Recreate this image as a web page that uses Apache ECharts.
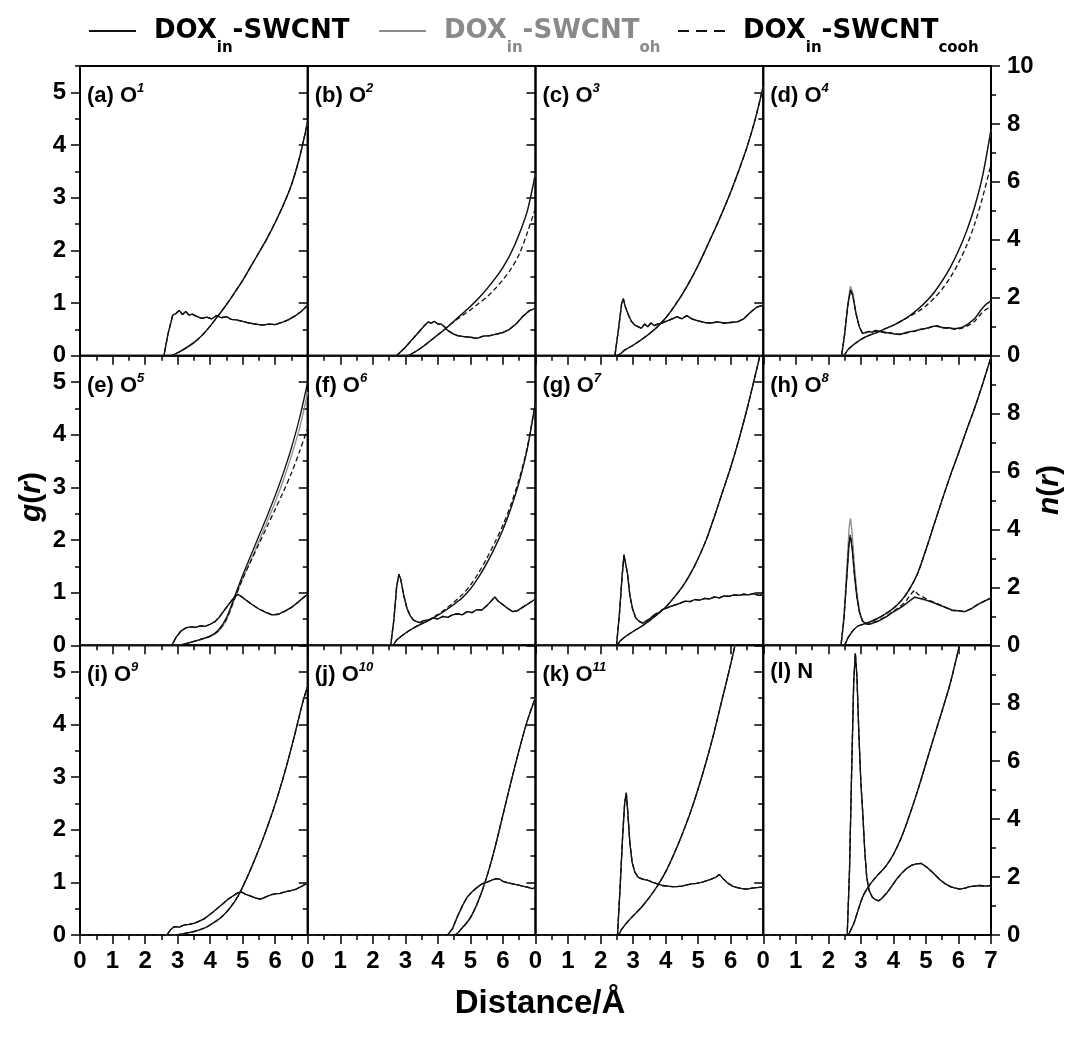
<!DOCTYPE html>
<html>
<head>
<meta charset="utf-8">
<script src="https://cdn.jsdelivr.net/npm/echarts@6/dist/echarts.min.js"></script>
<style>
  html, body { margin: 0; padding: 0; background: #fff; }
  #chart { width: 1074px; height: 1039px; }
</style>
</head>
<body>
<div id="chart"></div>
<script>
// g(r) and n(r), [r (Å), value]
const aG = [[0,0],[2.58,0],[2.7,0.4],[2.85,0.77],[2.95,0.8],[3.05,0.86],[3.15,0.78],[3.25,0.84],[3.35,0.77],[3.45,0.79],[3.6,0.74],[3.75,0.71],[3.9,0.73],[4.05,0.7],[4.2,0.76],[4.35,0.72],[4.5,0.74],[4.65,0.69],[4.8,0.68],[5.0,0.65],[5.2,0.62],[5.4,0.6],[5.6,0.58],[5.8,0.6],[6.0,0.59],[6.2,0.63],[6.4,0.68],[6.6,0.75],[6.8,0.84],[7.0,0.96]];
const aN = [[0,0],[2.77,0],[3.0,0.1],[3.25,0.26],[3.5,0.45],[3.75,0.7],[4.0,1.02],[4.25,1.38],[4.5,1.76],[4.75,2.17],[5.0,2.6],[5.25,3.08],[5.5,3.56],[5.75,4.05],[6.0,4.6],[6.25,5.2],[6.5,5.9],[6.75,6.85],[7.0,8.1]];

const bG = [[0,0],[2.73,0],[3.0,0.16],[3.2,0.3],[3.4,0.44],[3.6,0.58],[3.7,0.64],[3.8,0.62],[3.9,0.65],[4.0,0.6],[4.1,0.6],[4.2,0.55],[4.3,0.48],[4.45,0.42],[4.6,0.38],[4.8,0.36],[5.0,0.35],[5.2,0.33],[5.4,0.37],[5.6,0.38],[5.8,0.41],[6.0,0.44],[6.2,0.5],[6.4,0.6],[6.6,0.74],[6.8,0.85],[7.0,0.9]];
const bN = [[0,0],[3.04,0],[3.25,0.1],[3.5,0.28],[3.75,0.5],[4.0,0.72],[4.25,0.95],[4.5,1.2],[4.75,1.45],[5.0,1.7],[5.25,1.98],[5.5,2.3],[5.75,2.65],[6.0,3.05],[6.25,3.55],[6.5,4.2],[6.75,5.0],[7.0,6.3]];
const bNc = [[0,0],[3.04,0],[3.25,0.1],[3.5,0.28],[3.75,0.5],[4.0,0.72],[4.25,0.95],[4.5,1.18],[4.75,1.38],[5.0,1.58],[5.25,1.8],[5.5,2.02],[5.75,2.3],[6.0,2.62],[6.25,3.0],[6.5,3.5],[6.75,4.25],[7.0,5.1]];

const cG = [[0,0],[2.44,0],[2.55,0.5],[2.65,1.0],[2.7,1.08],[2.75,0.95],[2.85,0.78],[2.95,0.65],[3.05,0.58],[3.15,0.55],[3.25,0.52],[3.35,0.6],[3.45,0.55],[3.55,0.62],[3.65,0.57],[3.75,0.6],[3.9,0.62],[4.05,0.66],[4.2,0.7],[4.35,0.74],[4.5,0.7],[4.65,0.76],[4.8,0.7],[5.0,0.66],[5.2,0.63],[5.4,0.62],[5.6,0.64],[5.8,0.62],[6.0,0.63],[6.2,0.64],[6.4,0.7],[6.6,0.82],[6.8,0.92],[7.0,0.96]];
const cN = [[0,0],[2.49,0],[2.75,0.2],[3.0,0.36],[3.25,0.55],[3.5,0.76],[3.75,1.0],[4.0,1.3],[4.25,1.68],[4.5,2.1],[4.75,2.58],[5.0,3.12],[5.25,3.72],[5.5,4.33],[5.75,4.97],[6.0,5.65],[6.25,6.4],[6.5,7.2],[6.75,8.15],[7.0,9.3]];

const dG = [[0,0],[2.41,0],[2.5,0.4],[2.6,0.95],[2.68,1.25],[2.75,1.15],[2.85,0.8],[2.95,0.55],[3.05,0.42],[3.15,0.44],[3.25,0.46],[3.35,0.44],[3.45,0.48],[3.6,0.46],[3.75,0.44],[3.9,0.43],[4.05,0.41],[4.2,0.4],[4.35,0.43],[4.5,0.45],[4.65,0.47],[4.8,0.49],[5.0,0.52],[5.2,0.55],[5.35,0.57],[5.5,0.53],[5.7,0.53],[5.9,0.51],[6.1,0.53],[6.3,0.6],[6.5,0.7],[6.7,0.88],[6.85,0.98],[7.0,1.04]];
const dGoh = [[0,0],[2.41,0],[2.5,0.42],[2.6,1.0],[2.68,1.32],[2.75,1.2],[2.85,0.82],[2.95,0.56],[3.05,0.43],[3.15,0.45],[3.25,0.45],[3.35,0.46],[3.45,0.47],[3.6,0.45],[3.75,0.45],[3.9,0.42],[4.05,0.42],[4.2,0.41],[4.35,0.44],[4.5,0.46],[4.65,0.46],[4.8,0.5],[5.0,0.52],[5.2,0.56],[5.35,0.55],[5.5,0.54],[5.7,0.52],[5.9,0.52],[6.1,0.54],[6.3,0.61],[6.5,0.71],[6.7,0.87],[6.85,0.97],[7.0,1.03]];
const dGc = [[0,0],[2.41,0],[2.5,0.4],[2.6,0.95],[2.68,1.24],[2.75,1.14],[2.85,0.8],[2.95,0.55],[3.05,0.43],[3.15,0.43],[3.25,0.46],[3.35,0.45],[3.45,0.47],[3.6,0.46],[3.75,0.43],[3.9,0.44],[4.05,0.41],[4.2,0.41],[4.35,0.42],[4.5,0.45],[4.65,0.46],[4.8,0.5],[5.0,0.51],[5.2,0.55],[5.35,0.56],[5.5,0.53],[5.7,0.52],[5.9,0.5],[6.1,0.52],[6.3,0.57],[6.5,0.65],[6.7,0.8],[6.85,0.88],[7.0,0.93]];
const dN = [[0,0],[2.45,0],[2.6,0.2],[2.8,0.4],[3.0,0.56],[3.25,0.7],[3.5,0.8],[3.75,0.93],[4.0,1.05],[4.25,1.2],[4.5,1.38],[4.75,1.6],[5.0,1.86],[5.25,2.18],[5.5,2.58],[5.75,3.05],[6.0,3.62],[6.25,4.3],[6.5,5.15],[6.75,6.25],[7.0,7.8]];
const dNc = [[0,0],[2.45,0],[2.6,0.2],[2.8,0.4],[3.0,0.56],[3.25,0.7],[3.5,0.8],[3.75,0.93],[4.0,1.05],[4.25,1.2],[4.5,1.36],[4.75,1.52],[5.0,1.72],[5.25,1.98],[5.5,2.3],[5.75,2.7],[6.0,3.2],[6.25,3.8],[6.5,4.55],[6.75,5.5],[7.0,6.6]];

const eG = [[0,0],[2.82,0],[2.95,0.15],[3.1,0.27],[3.25,0.33],[3.4,0.35],[3.55,0.34],[3.7,0.37],[3.85,0.36],[4.0,0.4],[4.15,0.45],[4.3,0.55],[4.45,0.68],[4.6,0.8],[4.75,0.92],[4.85,0.97],[4.95,0.93],[5.1,0.86],[5.3,0.77],[5.5,0.69],[5.7,0.63],[5.9,0.58],[6.1,0.59],[6.3,0.65],[6.5,0.72],[6.7,0.82],[6.85,0.9],[7.0,0.97]];
const eN = [[0,0],[3.0,0],[3.25,0.06],[3.5,0.14],[3.75,0.22],[4.0,0.32],[4.25,0.52],[4.5,0.95],[4.75,1.68],[5.0,2.42],[5.25,3.1],[5.5,3.78],[5.75,4.46],[6.0,5.17],[6.25,5.95],[6.5,6.82],[6.75,7.85],[7.0,9.1]];
const eNoh = [[0,0],[3.0,0],[3.25,0.06],[3.5,0.13],[3.75,0.21],[4.0,0.3],[4.25,0.48],[4.5,0.88],[4.75,1.6],[5.0,2.3],[5.25,2.95],[5.5,3.6],[5.75,4.27],[6.0,4.95],[6.25,5.7],[6.5,6.55],[6.75,7.5],[7.0,8.75]];
const eNc = [[0,0],[3.0,0],[3.25,0.06],[3.5,0.14],[3.75,0.22],[4.0,0.32],[4.25,0.5],[4.5,0.9],[4.75,1.6],[5.0,2.3],[5.25,2.9],[5.5,3.5],[5.75,4.1],[6.0,4.7],[6.25,5.3],[6.5,5.95],[6.75,6.7],[7.0,7.5]];

const fG = [[0,0],[2.55,0],[2.65,0.5],[2.73,1.1],[2.8,1.35],[2.86,1.25],[2.95,0.95],[3.05,0.7],[3.15,0.56],[3.25,0.48],[3.35,0.45],[3.45,0.43],[3.55,0.47],[3.7,0.48],[3.85,0.52],[4.0,0.5],[4.15,0.55],[4.3,0.53],[4.45,0.58],[4.6,0.6],[4.75,0.58],[4.9,0.64],[5.05,0.62],[5.2,0.68],[5.35,0.67],[5.5,0.75],[5.65,0.85],[5.75,0.92],[5.85,0.84],[6.0,0.77],[6.15,0.7],[6.3,0.64],[6.45,0.66],[6.6,0.72],[6.8,0.8],[7.0,0.88]];
const fN = [[0,0],[2.58,0],[2.75,0.2],[3.0,0.42],[3.25,0.6],[3.5,0.74],[3.75,0.88],[4.0,1.04],[4.25,1.22],[4.5,1.42],[4.75,1.64],[5.0,1.95],[5.25,2.35],[5.5,2.83],[5.75,3.38],[6.0,4.0],[6.25,4.75],[6.5,5.65],[6.75,6.8],[7.0,8.4]];
const fNc = [[0,0],[2.58,0],[2.75,0.2],[3.0,0.42],[3.25,0.6],[3.5,0.75],[3.75,0.9],[4.0,1.07],[4.25,1.27],[4.5,1.5],[4.75,1.75],[5.0,2.08],[5.25,2.5],[5.5,3.0],[5.75,3.55],[6.0,4.15],[6.25,4.88],[6.5,5.75],[6.75,6.85],[7.0,8.4]];

const gG = [[0,0],[2.49,0],[2.58,0.6],[2.66,1.3],[2.72,1.72],[2.77,1.7],[2.83,1.35],[2.9,0.95],[2.98,0.7],[3.08,0.52],[3.2,0.45],[3.3,0.42],[3.4,0.46],[3.5,0.5],[3.6,0.55],[3.7,0.6],[3.8,0.62],[3.9,0.68],[4.0,0.7],[4.15,0.74],[4.3,0.77],[4.45,0.8],[4.6,0.84],[4.75,0.83],[4.9,0.87],[5.05,0.86],[5.2,0.89],[5.35,0.88],[5.5,0.92],[5.65,0.9],[5.8,0.94],[5.95,0.93],[6.1,0.96],[6.25,0.95],[6.4,0.97],[6.55,0.96],[6.7,0.98],[6.85,0.95],[7.0,0.96]];
const gN = [[0,0],[2.49,0],[2.6,0.15],[2.8,0.33],[3.0,0.48],[3.25,0.65],[3.5,0.85],[3.75,1.07],[4.0,1.32],[4.25,1.64],[4.5,2.0],[4.75,2.45],[5.0,3.0],[5.25,3.65],[5.5,4.45],[5.75,5.3],[6.0,6.15],[6.25,7.1],[6.5,8.15],[6.75,9.3],[7.0,10.5]];

const hG = [[0,0],[2.39,0],[2.48,0.5],[2.57,1.3],[2.64,1.95],[2.68,2.06],[2.73,1.85],[2.8,1.35],[2.88,0.9],[2.96,0.62],[3.05,0.46],[3.15,0.41],[3.25,0.4],[3.35,0.42],[3.5,0.45],[3.65,0.5],[3.8,0.55],[3.95,0.62],[4.1,0.67],[4.25,0.73],[4.4,0.8],[4.55,0.87],[4.65,0.92],[4.75,0.9],[4.9,0.88],[5.05,0.85],[5.2,0.82],[5.4,0.77],[5.6,0.72],[5.8,0.67],[6.0,0.66],[6.2,0.64],[6.4,0.7],[6.6,0.78],[6.8,0.84],[7.0,0.9]];
const hGoh = [[0,0],[2.39,0],[2.48,0.55],[2.57,1.5],[2.64,2.25],[2.68,2.41],[2.73,2.15],[2.8,1.55],[2.88,1.0],[2.96,0.66],[3.05,0.47],[3.15,0.41],[3.25,0.4],[3.35,0.41],[3.5,0.45],[3.65,0.49],[3.8,0.55],[3.95,0.61],[4.1,0.67],[4.25,0.72],[4.4,0.79],[4.55,0.86],[4.65,0.9],[4.75,0.9],[4.9,0.87],[5.05,0.85],[5.2,0.81],[5.4,0.77],[5.6,0.72],[5.8,0.68],[6.0,0.65],[6.2,0.64],[6.4,0.69],[6.6,0.77],[6.8,0.84],[7.0,0.9]];
const hGc = [[0,0],[2.39,0],[2.48,0.5],[2.57,1.32],[2.64,1.98],[2.68,2.1],[2.73,1.88],[2.8,1.37],[2.88,0.9],[2.96,0.62],[3.05,0.46],[3.15,0.42],[3.25,0.4],[3.35,0.43],[3.5,0.46],[3.65,0.51],[3.8,0.56],[3.95,0.63],[4.1,0.69],[4.25,0.76],[4.4,0.85],[4.55,0.98],[4.65,1.05],[4.75,0.97],[4.9,0.92],[5.05,0.87],[5.2,0.83],[5.4,0.78],[5.6,0.72],[5.8,0.66],[6.0,0.65],[6.2,0.64],[6.4,0.7],[6.6,0.78],[6.8,0.84],[7.0,0.9]];
const hN = [[0,0],[2.46,0],[2.6,0.25],[2.75,0.5],[2.9,0.66],[3.1,0.74],[3.3,0.82],[3.5,0.92],[3.75,1.08],[4.0,1.28],[4.25,1.55],[4.5,1.95],[4.75,2.5],[5.0,3.3],[5.25,4.17],[5.5,5.03],[5.75,5.86],[6.0,6.63],[6.25,7.43],[6.5,8.2],[6.75,9.05],[7.0,9.95]];

const iG = [[0,0],[2.67,0],[2.78,0.1],[2.9,0.16],[3.05,0.15],[3.2,0.19],[3.35,0.2],[3.5,0.22],[3.65,0.26],[3.8,0.3],[3.95,0.37],[4.1,0.44],[4.25,0.52],[4.4,0.6],[4.55,0.68],[4.7,0.74],[4.85,0.8],[4.95,0.82],[5.1,0.77],[5.25,0.74],[5.4,0.7],[5.55,0.68],[5.7,0.72],[5.85,0.76],[6.0,0.78],[6.15,0.79],[6.3,0.82],[6.45,0.84],[6.6,0.86],[6.8,0.92],[7.0,0.99]];
const iN = [[0,0],[2.85,0],[3.1,0.03],[3.35,0.08],[3.6,0.15],[3.85,0.25],[4.1,0.42],[4.35,0.62],[4.6,0.92],[4.85,1.33],[5.1,1.9],[5.35,2.55],[5.6,3.25],[5.85,4.02],[6.1,4.88],[6.35,5.85],[6.6,6.92],[6.85,8.05],[7.0,8.6]];

const jG = [[0,0],[4.3,0],[4.45,0.12],[4.6,0.35],[4.75,0.55],[4.9,0.72],[5.05,0.82],[5.2,0.9],[5.35,0.97],[5.5,1.0],[5.65,1.04],[5.8,1.07],[5.9,1.06],[6.0,1.02],[6.15,0.99],[6.3,0.97],[6.45,0.95],[6.6,0.93],[6.75,0.91],[6.9,0.88],[7.0,0.9]];
const jN = [[0,0],[4.5,0],[4.75,0.25],[5.0,0.6],[5.25,1.2],[5.5,2.0],[5.75,3.0],[6.0,4.15],[6.25,5.3],[6.5,6.4],[6.75,7.4],[7.0,8.2]];

const kG = [[0,0],[2.52,0],[2.6,0.9],[2.68,1.9],[2.74,2.5],[2.79,2.7],[2.84,2.3],[2.9,1.75],[2.97,1.38],[3.05,1.2],[3.15,1.1],[3.25,1.07],[3.35,1.05],[3.45,1.04],[3.6,1.0],[3.75,0.97],[3.9,0.94],[4.05,0.93],[4.2,0.92],[4.35,0.92],[4.5,0.93],[4.65,0.95],[4.8,0.97],[4.95,0.98],[5.1,1.0],[5.25,1.03],[5.4,1.06],[5.55,1.1],[5.65,1.15],[5.75,1.08],[5.9,0.99],[6.05,0.93],[6.2,0.9],[6.35,0.88],[6.5,0.87],[6.65,0.89],[6.8,0.9],[7.0,0.91]];
const kN = [[0,0],[2.52,0],[2.65,0.2],[2.8,0.42],[3.0,0.66],[3.25,0.95],[3.5,1.3],[3.75,1.7],[4.0,2.18],[4.25,2.78],[4.5,3.45],[4.75,4.2],[5.0,5.05],[5.25,6.0],[5.5,7.05],[5.75,8.2],[6.0,9.35],[6.25,10.6],[6.5,11.9]];

const lG = [[0,0],[2.58,0],[2.65,1.2],[2.72,3.2],[2.78,4.8],[2.83,5.35],[2.88,4.9],[2.94,3.8],[3.0,2.9],[3.06,2.3],[3.12,1.6],[3.18,1.1],[3.25,0.85],[3.35,0.72],[3.45,0.67],[3.55,0.65],[3.65,0.7],[3.8,0.8],[3.95,0.93],[4.1,1.06],[4.25,1.17],[4.4,1.26],[4.55,1.32],[4.7,1.35],[4.85,1.36],[5.0,1.3],[5.15,1.22],[5.3,1.13],[5.45,1.04],[5.6,0.97],[5.75,0.92],[5.9,0.89],[6.05,0.87],[6.2,0.89],[6.35,0.92],[6.5,0.93],[6.65,0.94],[6.8,0.93],[7.0,0.94]];
const lN = [[0,0],[2.58,0],[2.7,0.2],[2.8,0.45],[2.9,0.8],[3.0,1.15],[3.1,1.42],[3.25,1.7],[3.5,2.05],[3.75,2.35],[4.0,2.78],[4.25,3.38],[4.5,4.15],[4.75,5.0],[5.0,5.92],[5.25,6.85],[5.5,7.75],[5.75,8.7],[6.0,9.85],[6.25,11.0]];

const panelTags = ['(a) O', '(b) O', '(c) O', '(d) O', '(e) O', '(f) O', '(g) O', '(h) O', '(i) O', '(j) O', '(k) O', '(l) N'];
const panelSups = ['1', '2', '3', '4', '5', '6', '7', '8', '9', '10', '11', ''];

// per panel: g(r) and n(r) for [DOXin-SWCNT, DOXin-SWCNToh, DOXin-SWCNTcooh]
const panels = [
  { g: [aG, aG, aG], n: [aN, aN, aN] },
  { g: [bG, bG, bG], n: [bN, bN, bNc] },
  { g: [cG, cG, cG], n: [cN, cN, cN] },
  { g: [dG, dGoh, dGc], n: [dN, dN, dNc] },
  { g: [eG, eG, eG], n: [eN, eNoh, eNc] },
  { g: [fG, fG, fG], n: [fN, fN, fNc] },
  { g: [gG, gG, gG], n: [gN, gN, gN] },
  { g: [hG, hGoh, hGc], n: [hN, hN, hN] },
  { g: [iG, iG, iG], n: [iN, iN, iN] },
  { g: [jG, jG, jG], n: [jN, jN, jN] },
  { g: [kG, kG, kG], n: [kN, kN, kN] },
  { g: [lG, lG, lG], n: [lN, lN, lN] }
];

const LEFT = 80, TOP = 66, PW = 227.75, PH = 289.67;
const FONT = "'Liberation Sans', Arial, sans-serif";
const LEG_FONT = "'DejaVu Sans', sans-serif";
const names = ['in', 'oh', 'cooh'];
const colors = ['#111', '#8c8c8c', '#111'];
const lineTypes = ['solid', 'solid', [5, 3]];
const zOrder = [3, 2, 4];
const tickStyle = { color: '#000', width: 1.5 };

const grids = [], xAxes = [], yAxes = [], series = [], graphics = [];

panels.forEach(function (p, k) {
  const row = Math.floor(k / 4), col = k % 4;
  grids.push({
    left: LEFT + col * PW, top: TOP + row * PH, width: PW, height: PH,
    show: true, borderColor: '#000', borderWidth: 2, backgroundColor: 'transparent',
    containLabel: false, outerBoundsMode: 'none'
  });
  xAxes.push({
    gridIndex: k, type: 'value', min: 0, max: 7, interval: 1,
    axisLine: { show: false }, splitLine: { show: false },
    axisTick: { show: true, length: 9, lineStyle: tickStyle },
    minorTick: { show: true, splitNumber: 2, length: 5, lineStyle: tickStyle },
    axisLabel: {
      show: row === 2, showMaxLabel: col === 3, showMinLabel: true,
      fontSize: 24, fontWeight: 'bold', fontFamily: FONT, color: '#000', margin: 14
    }
  });
  // g(r) major ticks + labels
  yAxes.push({
    gridIndex: k, type: 'value', min: 0, max: 5.5, interval: 1, position: 'left',
    axisLine: { show: false }, splitLine: { show: false },
    axisTick: { show: true, length: 9, lineStyle: tickStyle, customValues: [0, 1, 2, 3, 4, 5] },
    axisLabel: {
      show: col === 0, showMaxLabel: false,
      fontSize: 24, fontWeight: 'bold', fontFamily: FONT, color: '#000', margin: 14
    }
  });
  // g(r) minor ticks, series axis
  yAxes.push({
    gridIndex: k, type: 'value', min: 0, max: 5.5, interval: 0.5, position: 'left',
    axisLine: { show: false }, splitLine: { show: false },
    axisTick: { show: true, length: 5, lineStyle: tickStyle },
    axisLabel: { show: false }
  });
  // n(r)
  yAxes.push({
    gridIndex: k, type: 'value', min: 0, max: 10, interval: 2, position: 'right',
    axisLine: { show: false }, splitLine: { show: false },
    axisTick: { show: col === 3, length: 9, lineStyle: tickStyle },
    minorTick: { show: col === 3, splitNumber: 2, length: 5, lineStyle: tickStyle },
    axisLabel: {
      show: col === 3, showMaxLabel: row === 0,
      fontSize: 24, fontWeight: 'bold', fontFamily: FONT, color: '#000', margin: 16
    }
  });

  for (let s = 0; s < 3; s++) {
    series.push({
      name: names[s], type: 'line', xAxisIndex: k, yAxisIndex: 3 * k + 1,
      data: p.g[s], symbol: 'none', silent: true, z: zOrder[s],
      lineStyle: { color: colors[s], width: 1.3, type: lineTypes[s] },
      itemStyle: { color: colors[s] }
    });
    series.push({
      name: names[s], type: 'line', xAxisIndex: k, yAxisIndex: 3 * k + 2,
      data: p.n[s], symbol: 'none', silent: true, smooth: 0.3, z: zOrder[s],
      lineStyle: { color: colors[s], width: 1.3, type: lineTypes[s] },
      itemStyle: { color: colors[s] }
    });
  }

  graphics.push({
    type: 'text', left: LEFT + col * PW + 7, top: TOP + row * PH + 16,
    style: {
      text: '{m|' + panelTags[k] + '}' + (panelSups[k] ? '{s|' + panelSups[k] + '}' : ''),
      rich: {
        m: { fontSize: 22, fontWeight: 'bold', fontFamily: FONT, fill: '#000', lineHeight: 28 },
        s: { fontSize: 13, fontWeight: 'bold', fontStyle: 'italic', fontFamily: FONT, fill: '#000', lineHeight: 14, verticalAlign: 'top' }
      }
    }
  });
});

graphics.push({
  type: 'text', x: 32, y: 497, rotation: Math.PI / 2,
  style: {
    text: '{i|g}{n|(}{i|r}{n|)}', align: 'center', verticalAlign: 'middle',
    rich: {
      i: { fontSize: 30, fontWeight: 'bold', fontStyle: 'italic', fontFamily: FONT, fill: '#000' },
      n: { fontSize: 30, fontWeight: 'bold', fontFamily: FONT, fill: '#000' }
    }
  }
});
graphics.push({
  type: 'text', x: 1050, y: 490, rotation: Math.PI / 2,
  style: {
    text: '{i|n}{n|(}{i|r}{n|)}', align: 'center', verticalAlign: 'middle',
    rich: {
      i: { fontSize: 30, fontWeight: 'bold', fontStyle: 'italic', fontFamily: FONT, fill: '#000' },
      n: { fontSize: 30, fontWeight: 'bold', fontFamily: FONT, fill: '#000' }
    }
  }
});
graphics.push({
  type: 'text', x: 540, y: 1004,
  style: {
    text: 'Distance/Å', align: 'center', verticalAlign: 'middle',
    fontSize: 33, fontWeight: 'bold', fontFamily: FONT, fill: '#000'
  }
});

const legRich = {
  m: { fontSize: 26, fontWeight: 'bold', fontFamily: LEG_FONT, color: '#000', lineHeight: 50 },
  s: { fontSize: 15, fontWeight: 'bold', fontFamily: LEG_FONT, color: '#000', lineHeight: 30, verticalAlign: 'bottom' },
  g: { fontSize: 26, fontWeight: 'bold', fontFamily: LEG_FONT, color: '#8a8a8a', lineHeight: 50 },
  gs: { fontSize: 15, fontWeight: 'bold', fontFamily: LEG_FONT, color: '#8a8a8a', lineHeight: 30, verticalAlign: 'bottom' }
};
const legendLabels = {
  in: '{m|DOX}{s|in}{m|-SWCNT}',
  oh: '{g|DOX}{gs|in}{g|-SWCNT}{gs|oh}',
  cooh: '{m|DOX}{s|in}{m|-SWCNT}{s|cooh}'
};
function makeLegend(name, left, dash) {
  return {
    data: [name], left: left, top: 18, padding: 0, orient: 'horizontal',
    itemWidth: 47, itemHeight: 14, selectedMode: false,
    lineStyle: dash ? { width: 2, type: dash } : { width: 2 },
    itemStyle: { opacity: 0 },
    formatter: function (n) { return legendLabels[n]; },
    textStyle: { rich: legRich, padding: [0, 0, 0, 13] }
  };
}

const chart = echarts.init(document.getElementById('chart'), null, { renderer: 'canvas' });
chart.setOption({
  animation: false,
  backgroundColor: '#fff',
  legend: [makeLegend('in', 88), makeLegend('oh', 378), makeLegend('cooh', 677, [11, 7])],
  grid: grids,
  xAxis: xAxes,
  yAxis: yAxes,
  series: series,
  graphic: graphics
});
</script>
</body>
</html>
